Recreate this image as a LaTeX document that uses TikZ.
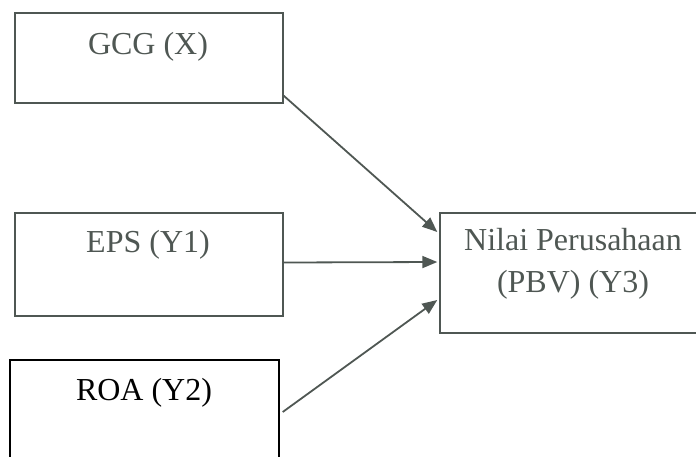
\documentclass[tikz,border=0pt]{standalone}
\usepackage{fontspec}
\setmainfont{Liberation Serif}
\usetikzlibrary{arrows.meta,calc}
\definecolor{ink}{HTML}{4F5753}
\begin{document}
\begin{tikzpicture}[x=1pt,y=-1pt,
  box/.style={draw=ink,line width=1.4pt,inner sep=0pt},
  lbl/.style={text=ink,font=\fontsize{32}{42}\selectfont,inner sep=0pt,align=center},
  conn/.style={draw=ink,line width=1.8pt,-{Triangle[length=15pt,width=12pt]}}]
\useasboundingbox (0,0) rectangle (696,456);
\node[box,minimum width=268,minimum height=90] (gcg) at (149,58) {};
\node[box,minimum width=268,minimum height=103] (eps) at (149,264.5) {};
\node[box,draw=black,minimum width=269,minimum height=110] (roa) at (144.5,415) {};
\node[box,minimum width=260,minimum height=120] (nilai) at (570,273) {};
\node[lbl] (tgcg) at (148,47) {GCG (X)};
\node[lbl] (teps) at (148,245) {EPS (Y1)};
\node[lbl,text=black] (troa) at (144,393) {ROA (Y2)};
\node[lbl] (tnilai) at (573,264) {Nilai Perusahaan\\(PBV) (Y3)};
\draw[conn] ($(gcg.south east)+(0,-8)$) -- ($(nilai.west)+(-2,-41)$);
\draw[conn] ($(eps.east)+(0,-2)$) -- ($(nilai.west)+(-2,-11)$);
\draw[conn] ($(roa.east)+(3,-3)$) -- ($(nilai.west)+(-2,27)$);
\end{tikzpicture}
\end{document}
